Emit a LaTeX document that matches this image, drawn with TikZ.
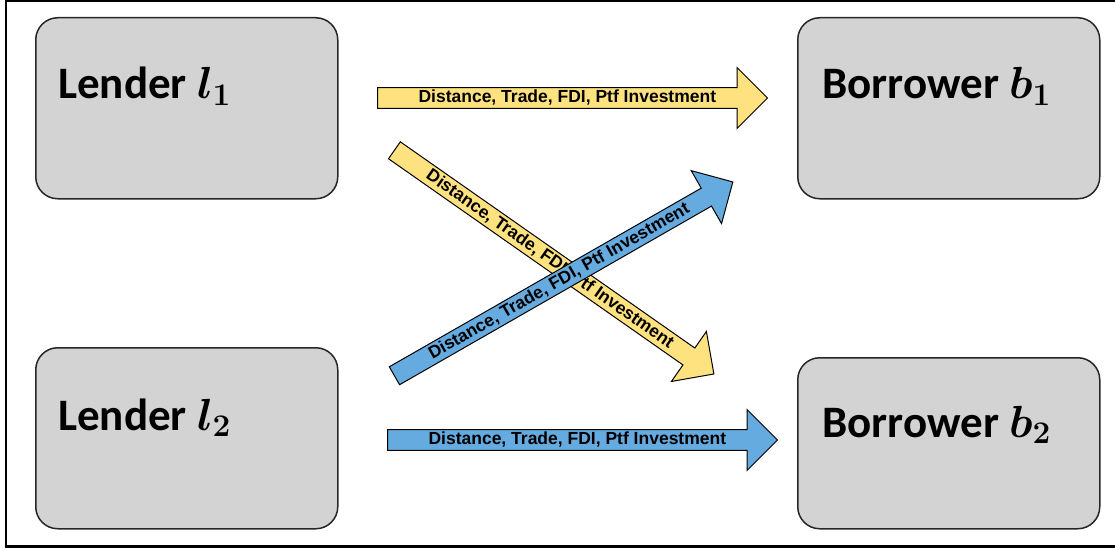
\RequirePackage{fix-cm}
\documentclass[tikz,border=0pt]{standalone}
\usepackage[no-math]{fontspec}
\setmainfont{Carlito}
\newfontfamily\arialfont{Liberation Sans}
\usetikzlibrary{shapes.arrows,calc}
\definecolor{partygray}{RGB}{211,211,211}
\definecolor{flowyellow}{RGB}{255,226,128}
\definecolor{flowblue}{RGB}{102,171,224}
\tikzstyle{party}=[rectangle, rounded corners=22pt, fill=partygray, draw=black!85, line width=1.5pt, minimum width=302pt, minimum height=181pt, inner sep=0pt, anchor=north west]
\tikzstyle{annot}=[anchor=base west, inner sep=0pt, font=\fontsize{45}{54}\selectfont\bfseries\boldmath]
\tikzstyle{flow}=[single arrow, draw=black, line width=1pt, minimum height=390pt, minimum width=61pt, single arrow head extend=16pt, inner xsep=0pt, inner ysep=0pt, anchor=tail, font=\arialfont\fontsize{17.5}{20}\selectfont\bfseries]
\newcommand{\drawparties}[0]
{
  \node[party](lend1) at (35,17){};
  \node[party](lend2) at (35,347){};
  \node[party](borr1) at (797,17){};
  \node[party, minimum height=171pt](borr2) at (797,357){};
  \node[annot] at ($(lend1.north west)+(23,82)$) {Lender $l_1$};
  \node[annot] at ($(lend2.north west)+(23,83)$) {Lender $l_2$};
  \node[annot] at ($(borr1.north west)+(25,82)$) {Borrower $b_1$};
  \node[annot] at ($(borr2.north west)+(25,80)$) {Borrower $b_2$};
}

\begin{document}
\begin{tikzpicture}[x=1pt, y=-1pt]
	\useasboundingbox (0,0) rectangle (1115,548);
	\draw[line width=2.3pt] (1120,1.3) -- (6.2,1.3) -- (6.2,546.5) -- (1120,546.5);

	\drawparties{}

	\coordinate (t11) at (377,98);
	\coordinate (t12) at (394,150);
	\coordinate (t21) at (394,376);
	\coordinate (t22) at (387,440);

	\node[flow, fill=flowyellow](f11) at (t11){Distance, Trade, FDI, Ptf Investment};
	\node[flow, fill=flowyellow, rotate=-35](f12) at (t12){Distance, Trade, FDI, Ptf Investment};
	\node[flow, fill=flowblue, rotate=29.8](f21) at (t21){Distance, Trade, FDI, Ptf Investment};
	\node[flow, fill=flowblue](f22) at (t22){Distance, Trade, FDI, Ptf Investment};

\end{tikzpicture}
\end{document}
